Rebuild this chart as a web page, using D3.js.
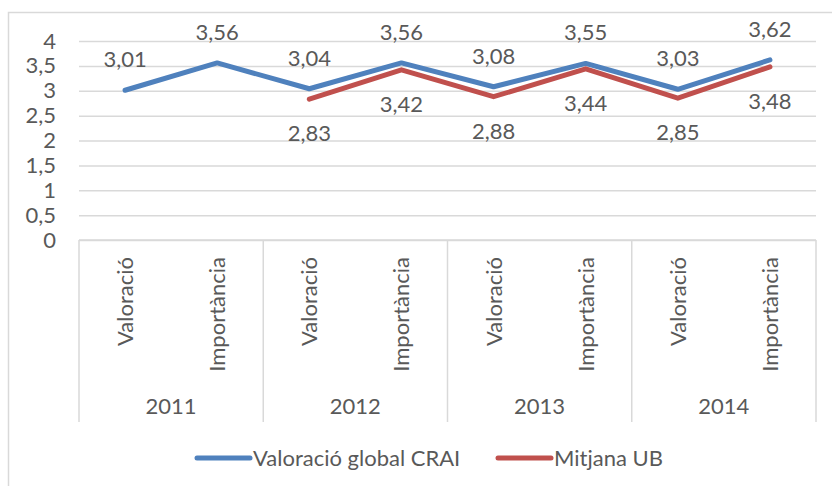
<!DOCTYPE html>
<html>
<head>
    <meta charset="utf-8">
    <title>Valoració global CRAI vs Mitjana UB</title>
    <script src="https://d3js.org/d3.v7.min.js"></script>
    <style>
        body { margin: 0; background: #fff; }
        svg text { font-family: Lato, "Open Sans", sans-serif; fill: #595959; }
        .grid line { stroke: #d9d9d9; stroke-width: 1.5; }
        .frame { fill: none; stroke: #d9d9d9; stroke-width: 1.5; }
    </style>
</head>
<body>
    <svg id="chart"></svg>

    <script>
        // Data
        var years = ['2011', '2012', '2013', '2014'];
        var subCats = ['Valoració', 'Importància'];
        var craiValues = [3.01, 3.56, 3.04, 3.56, 3.08, 3.55, 3.03, 3.62];
        var ubValues = [null, null, 2.83, 3.42, 2.88, 3.44, 2.85, 3.48];
        var yTicks = [0, 0.5, 1, 1.5, 2, 2.5, 3, 3.5, 4];
        var seriesNames = ['Valoració global CRAI', 'Mitjana UB'];
        var seriesColors = ['#4f81bd', '#c0504d'];

        var width = 832, height = 486;
        var plot = { left: 79, right: 816, top: 41, bottom: 240 };
        var axisBottom = 422;
        var fontSize = 22;

        var svg = d3.select('#chart')
            .attr('width', width)
            .attr('height', height);

        // outer chart frame (runs off the picture to the right and bottom)
        svg.append('rect')
            .attr('class', 'frame')
            .attr('x', 8.5).attr('y', 12.5)
            .attr('width', 900).attr('height', 600);

        // flat list of categories: year x sub category
        var cats = [];
        years.forEach(function (y) {
            subCats.forEach(function (s) { cats.push(y + '|' + s); });
        });

        var x = d3.scaleBand()
            .domain(cats)
            .range([plot.left, plot.right])
            .padding(0);

        var xYear = d3.scaleBand()
            .domain(years)
            .range([plot.left, plot.right])
            .padding(0);

        var y = d3.scaleLinear()
            .domain([0, 4])
            .range([plot.bottom, plot.top]);

        // gridlines + y tick labels
        var yAxis = d3.axisLeft(y)
            .tickValues(yTicks)
            .tickSize(-(plot.right - plot.left))
            .tickPadding(23)
            .tickFormat(function (d) { return String(d).replace('.', ','); });

        var gy = svg.append('g')
            .attr('class', 'grid')
            .attr('transform', 'translate(' + plot.left + ',0)')
            .call(yAxis);
        gy.select('.domain').remove();
        gy.selectAll('text')
            .style('font-size', fontSize + 'px')
            .attr('fill', '#595959');

        // category axis box
        var gx = svg.append('g').attr('class', 'grid');
        gx.append('line')
            .attr('x1', plot.left).attr('x2', plot.right)
            .attr('y1', plot.bottom).attr('y2', plot.bottom);
        var bounds = years.map(function (yr) { return xYear(yr); }).concat([plot.right]);
        gx.selectAll('.sep')
            .data(bounds)
            .enter().append('line')
            .attr('class', 'sep')
            .attr('x1', function (d) { return d; })
            .attr('x2', function (d) { return d; })
            .attr('y1', plot.bottom)
            .attr('y2', axisBottom);

        // rotated sub category labels
        svg.selectAll('.subLabel')
            .data(cats)
            .enter().append('text')
            .attr('class', 'subLabel')
            .attr('text-anchor', 'end')
            .attr('transform', function (d) {
                var cx = x(d) + x.bandwidth() / 2 + 8;
                return 'translate(' + cx + ',' + 257 + ') rotate(-90)';
            })
            .style('font-size', fontSize + 'px')
            .text(function (d) { return d.split('|')[1]; });

        // year labels
        svg.selectAll('.yearLabel')
            .data(years)
            .enter().append('text')
            .attr('class', 'yearLabel')
            .attr('text-anchor', 'middle')
            .attr('x', function (d) { return xYear(d) + xYear.bandwidth() / 2; })
            .attr('y', 414)
            .style('font-size', fontSize + 'px')
            .text(function (d) { return d; });

        // lines
        var series = [craiValues, ubValues];
        var line = d3.line()
            .defined(function (d) { return d != null; })
            .x(function (d, i) { return x(cats[i]) + x.bandwidth() / 2; })
            .y(function (d) { return y(d); });

        series.forEach(function (vals, si) {
            svg.append('path')
                .datum(vals)
                .attr('fill', 'none')
                .attr('stroke', seriesColors[si])
                .attr('stroke-width', 5)
                .attr('stroke-linecap', 'round')
                .attr('stroke-linejoin', 'round')
                .attr('d', line);
        });

        // data labels: CRAI above, UB below
        var labelDy = [-23, 42];
        series.forEach(function (vals, si) {
            svg.selectAll('.lbl' + si)
                .data(vals.map(function (v, i) { return { v: v, i: i }; }).filter(function (d) { return d.v != null; }))
                .enter().append('text')
                .attr('class', 'lbl' + si)
                .attr('text-anchor', 'middle')
                .attr('x', function (d) { return x(cats[d.i]) + x.bandwidth() / 2; })
                .attr('y', function (d) { return y(d.v) + labelDy[si]; })
                .style('font-size', fontSize + 'px')
                .text(function (d) { return d3.format('.2f')(d.v).replace('.', ','); });
        });

        // legend
        var legendX = [197, 498];
        var legendY = 458;
        seriesNames.forEach(function (name, si) {
            var g = svg.append('g').attr('transform', 'translate(' + legendX[si] + ',' + legendY + ')');
            g.append('line')
                .attr('x1', 0).attr('x2', 53)
                .attr('stroke', seriesColors[si])
                .attr('stroke-width', 5)
                .attr('stroke-linecap', 'round');
            g.append('text')
                .attr('x', 56)
                .attr('y', 7.5)
                .style('font-size', fontSize + 'px')
                .text(name);
        });
    </script>
</body>
</html>
